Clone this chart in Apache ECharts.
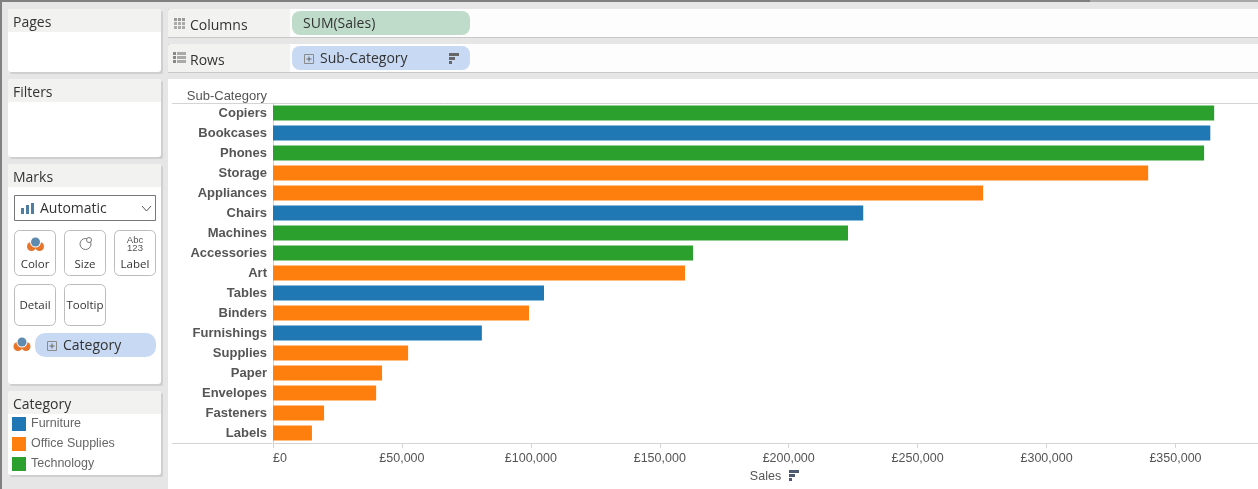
<!DOCTYPE html>
<html>
<head>
<meta charset="utf-8">
<title>Sales by Sub-Category</title>
<script src="https://cdn.jsdelivr.net/npm/echarts@6/dist/echarts.min.js"></script>
<style>
  html, body { margin: 0; padding: 0; background: #fff; overflow: hidden; }
  #main { width: 1258px; height: 489px; }
</style>
</head>
<body>
<div id="main"></div>
<script>
var subCategories = ['Copiers', 'Bookcases', 'Phones', 'Storage', 'Appliances', 'Chairs', 'Machines', 'Accessories', 'Art', 'Tables', 'Binders', 'Furnishings', 'Supplies', 'Paper', 'Envelopes', 'Fasteners', 'Labels'];
var furnitureSales = [null, 363500, null, null, null, 228900, null, null, null, 105100, null, 81000, null, null, null, null, null];
var officeSales = [null, null, null, 339400, 275400, null, null, null, 159800, null, 99300, null, 52400, 42300, 40000, 19800, 15100];
var technologySales = [365000, null, 361100, null, null, null, 223000, 162900, null, null, null, null, null, null, null, null, null];

var UI_FONT = '"Open Sans", sans-serif';
var VIEW_FONT = '"Liberation Sans", Arial, sans-serif';

function box(x, y, w, h, fill, r, stroke) {
  return {
    type: 'rect',
    shape: { x: x, y: y, width: w, height: h, r: r || 0 },
    style: { fill: fill, stroke: stroke || null, lineWidth: stroke ? 1 : 0 },
    silent: true
  };
}

function label(x, y, text, size, align, color, font) {
  return {
    type: 'text',
    x: x,
    y: y,
    style: {
      text: text,
      fontSize: size,
      fontFamily: font || UI_FONT,
      fill: color || '#333',
      align: align || 'left',
      verticalAlign: 'middle'
    },
    silent: true
  };
}

function dot(cx, cy, r, fill, stroke) {
  return {
    type: 'circle',
    shape: { cx: cx, cy: cy, r: r },
    style: { fill: fill, stroke: stroke || null, lineWidth: stroke ? 1 : 0 },
    silent: true
  };
}

function line(x1, y1, x2, y2, color) {
  return {
    type: 'line',
    shape: { x1: x1, y1: y1, x2: x2, y2: y2 },
    style: { stroke: color, lineWidth: 1 },
    silent: true
  };
}

function panel(y, h, headerH, title) {
  return [
    box(10, y + 2, 153, h, '#cfcfcf', 2),
    box(8, y, 153, h, '#ffffff', 3),
    box(8, y, 153, headerH, '#f2f2f0', [3, 3, 0, 0]),
    label(13, y + 14, title, 14)
  ];
}

function shelf(y, title) {
  return [
    box(168, y, 1090, 29, '#c8c8c8'),
    box(168, y, 1090, 28, '#fdfdfd', [3, 0, 0, 0]),
    box(168, y, 122, 28, '#f2f2f0', [3, 0, 0, 0]),
    label(190, y + 17, title, 14)
  ];
}

function markButton(x, y, h, text, textY) {
  return [
    box(x + 0.5, y + 0.5, 41, h, '#ffffff', 5, '#bcbcbc'),
    label(x + 21, textY, text, 11.5, 'center')
  ];
}

function sortIcon(x, y, color, rowH) {
  return [
    box(x, y, 10, rowH, color),
    box(x, y + rowH + 1, 6, rowH, color),
    box(x, y + 2 * rowH + 2, 3, rowH, color)
  ];
}

function plusBox(x, y) {
  return [
    box(x + 0.5, y + 0.5, 9, 9, 'transparent', 0, '#8a8a8a'),
    line(x + 2.5, y + 5, x + 7.5, y + 5, '#666'),
    line(x + 5, y + 2.5, x + 5, y + 7.5, '#666')
  ];
}

function colorIcon(cx, cy) {
  return [
    dot(cx - 4, cy + 4.5, 4.5, '#e8742a'),
    dot(cx + 4, cy + 4.5, 4.5, '#e8742a'),
    dot(cx, cy, 5.5, '#ffffff'),
    dot(cx, cy, 4.5, '#5f8bb0')
  ];
}

function buildChrome() {
  var items = [
    box(0, 0, 1258, 489, '#e6e6e6'),
    box(0, 0, 1090, 2, '#808080'),
    box(1090, 0, 168, 2, '#a8a8a8'),
    box(0, 0, 2, 489, '#808080'),
    box(168, 79, 1090, 410, '#ffffff')
  ];

  items = items.concat(panel(9, 63, 23, 'Pages'));
  items = items.concat(panel(79, 78, 23, 'Filters'));
  items = items.concat(panel(164, 220, 23, 'Marks'));
  items = items.concat(panel(391, 84, 23, 'Category'));

  // marks card
  items.push(box(14.5, 195.5, 141, 25, '#ffffff', 0, '#777'));
  items.push(box(21, 208, 3, 6, '#4f7fa0'), box(26, 205, 3, 9, '#4f7fa0'), box(31, 203, 3, 11, '#4f7fa0'));
  items.push(label(40, 209, 'Automatic', 14));
  items.push({
    type: 'polyline',
    shape: { points: [[142, 206], [146.5, 211], [151, 206]] },
    style: { stroke: '#555', lineWidth: 1, fill: null },
    silent: true
  });
  items = items.concat(markButton(14, 230, 45, 'Color', 265));
  items = items.concat(markButton(64, 230, 45, 'Size', 265));
  items = items.concat(markButton(114, 230, 45, 'Label', 265));
  items = items.concat(markButton(14, 284, 41, 'Detail', 306));
  items = items.concat(markButton(64, 284, 41, 'Tooltip', 306));
  items = items.concat(colorIcon(35.5, 242));
  items.push(dot(85.5, 244, 5.5, '#ffffff', '#777'), dot(89, 240, 2.5, '#ffffff', '#777'));
  items.push(label(135, 240, 'Abc', 9.5, 'center', '#555', VIEW_FONT), label(135, 248, '123', 9.5, 'center', '#555', VIEW_FONT));
  items = items.concat(colorIcon(22, 342));
  items.push(box(35, 333, 121, 24, '#c8d9f3', 10));
  items = items.concat(plusBox(47, 341));
  items.push(label(63, 346, 'Category', 14));

  // shelves
  items = items.concat(shelf(9, 'Columns'));
  items = items.concat(shelf(44, 'Rows'));
  items.push(box(292, 11, 178, 24, '#bfdccb', 8));
  items.push(label(303, 24, 'SUM(Sales)', 14));
  items.push(box(292, 46, 178, 24, '#c8d9f3', 8));
  items = items.concat(plusBox(304, 54));
  items.push(label(320, 59, 'Sub-Category', 14));
  items = items.concat(sortIcon(449, 53, '#666', 3));

  for (var c = 0; c < 3; c++) {
    items.push(box(174 + c * 4, 18, 3, 3, '#999'), box(174 + c * 4, 22, 3, 3, '#aaa'), box(174 + c * 4, 26, 3, 3, '#aaa'));
  }
  for (var r = 0; r < 3; r++) {
    items.push(box(173, 52 + r * 4, 3, 3, '#888'), box(177, 52 + r * 4, 9, 3, '#aaa'));
  }

  // view frame lines
  items.push(line(172, 103.5, 1258, 103.5, '#d4d4d4'));
  items.push(line(172, 443.5, 272, 443.5, '#d4d4d4'));
  items = items.concat(sortIcon(789, 470, '#4a5a70', 3));
  return items;
}

function barSeries(name, values, color) {
  return {
    name: name,
    type: 'bar',
    stack: 'sales',
    barWidth: 15,
    data: values,
    itemStyle: { color: color },
    emphasis: { disabled: true }
  };
}

var myChart = echarts.init(document.getElementById('main'));
myChart.setOption({
  animation: false,
  textStyle: { fontFamily: VIEW_FONT },
  graphic: { elements: buildChrome(), z: -10, zlevel: 0 },
  tooltip: { trigger: 'item' },
  legend: {
    orient: 'vertical',
    left: 12,
    top: 417,
    itemWidth: 14,
    itemHeight: 14,
    itemGap: 6,
    padding: 0,
    icon: 'rect',
    selectedMode: false,
    z: 20,
    textStyle: { color: '#666', fontSize: 12.5, fontFamily: VIEW_FONT, padding: [2, 0, 0, 0] }
  },
  grid: { left: 273, right: 0, top: 103, height: 340 },
  xAxis: {
    type: 'value',
    min: 0,
    max: 382000,
    interval: 50000,
    name: 'Sales',
    nameLocation: 'middle',
    nameGap: 34,
    nameTextStyle: { color: '#555', fontSize: 12.5, verticalAlign: 'middle', fontFamily: VIEW_FONT },
    axisLine: { show: true, lineStyle: { color: '#d4d4d4' } },
    axisTick: { show: true, length: 5, lineStyle: { color: '#d4d4d4' } },
    splitLine: { show: false },
    axisLabel: {
      color: '#555',
      fontSize: 12.5,
      fontFamily: VIEW_FONT,
      margin: 9,
      showMaxLabel: false,
      alignMinLabel: 'left',
      formatter: function (value) {
        return '£' + value.toLocaleString('en-GB');
      }
    }
  },
  yAxis: {
    type: 'category',
    inverse: true,
    data: subCategories,
    name: 'Sub-Category',
    nameLocation: 'start',
    nameGap: 7,
    nameTextStyle: { color: '#555', fontSize: 13, align: 'right', verticalAlign: 'middle', padding: [0, 6, 0, 0], fontFamily: VIEW_FONT },
    axisLine: { show: true, lineStyle: { color: '#d4d4d4' } },
    axisTick: { show: false },
    axisLabel: { color: '#555', fontSize: 13, fontWeight: 'bold', margin: 6, fontFamily: VIEW_FONT }
  },
  series: [
    barSeries('Furniture', furnitureSales, '#1f77b4'),
    barSeries('Office Supplies', officeSales, '#ff7f0e'),
    barSeries('Technology', technologySales, '#2ca02c')
  ]
});
window.addEventListener('resize', function () {
  myChart.resize();
});
</script>
</body>
</html>
